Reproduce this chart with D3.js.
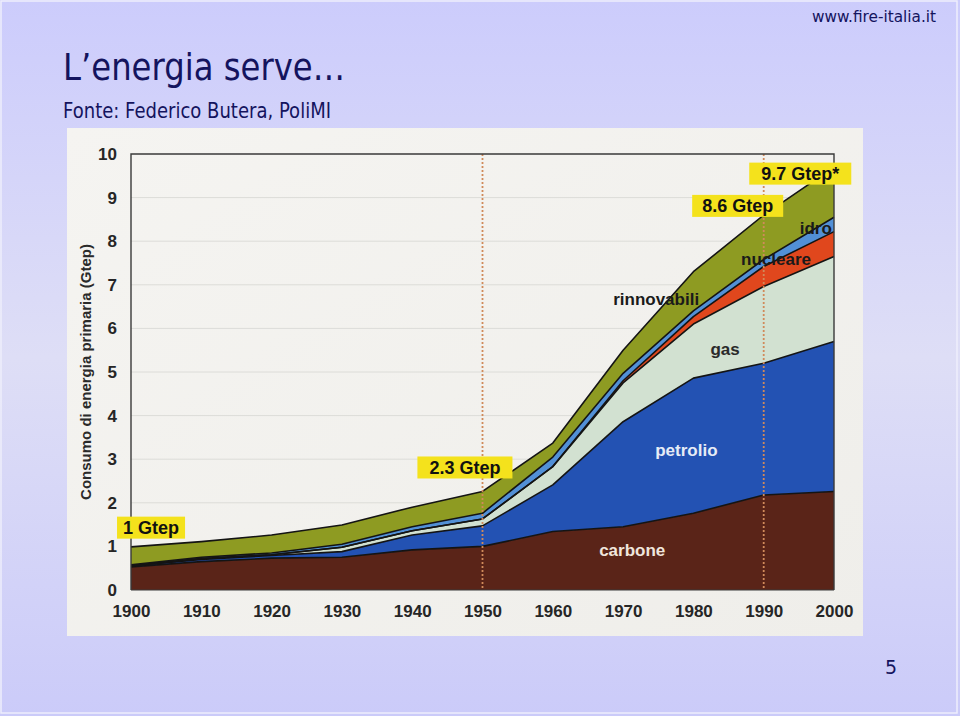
<!DOCTYPE html>
<html>
<head>
<meta charset="utf-8">
<script src="https://cdn.jsdelivr.net/npm/d3@7"></script>
<style>
  html, body { margin: 0; padding: 0; background: #ccccfa; }
  svg { display: block; }
</style>
</head>
<body>
<svg id="slide" width="960" height="716"></svg>
<script>
// world primary energy consumption by source, Gtep (values per layer)
const years = [1900, 1910, 1920, 1930, 1940, 1950, 1960, 1970, 1980, 1990, 2000];
const carbone     = [0.53, 0.65, 0.73, 0.75, 0.92, 1.00, 1.34, 1.45, 1.76, 2.18, 2.26];
const petrolio    = [0.02, 0.05, 0.06, 0.13, 0.34, 0.47, 1.07, 2.41, 3.10, 3.02, 3.44];
const gas         = [0.01, 0.02, 0.02, 0.10, 0.10, 0.16, 0.42, 0.89, 1.24, 1.76, 1.95];
const nucleare    = [0.00, 0.00, 0.00, 0.00, 0.00, 0.00, 0.00, 0.05, 0.17, 0.46, 0.57];
const idro        = [0.02, 0.03, 0.04, 0.07, 0.09, 0.13, 0.22, 0.17, 0.13, 0.16, 0.33];
const rinnovabili = [0.41, 0.36, 0.41, 0.44, 0.45, 0.50, 0.32, 0.53, 0.90, 1.02, 1.15];

const sources = ["carbone", "petrolio", "gas", "nucleare", "idro", "rinnovabili"];
const seriesValues = { carbone, petrolio, gas, nucleare, idro, rinnovabili };
const yTicks = [0, 1, 2, 3, 4, 5, 6, 7, 8, 9, 10];
const xTicks = [1900, 1910, 1920, 1930, 1940, 1950, 1960, 1970, 1980, 1990, 2000];
const markerYears = [1950, 1990];

// callouts: year, value, text
const callouts = [
  { year: 1902.85, value: 1.43, text: "1 Gtep", pad: 6 },
  { year: 1947.5, value: 2.81, text: "2.3 Gtep", pad: 12 },
  { year: 1986.3, value: 8.81, text: "8.6 Gtep", pad: 10 },
  { year: 1995.2, value: 9.55, text: "9.7 Gtep*", pad: 12 }
];

const colors = {
  carbone: "#5a2418",
  petrolio: "#2352b3",
  gas: "#d2e1d1",
  nucleare: "#e0471d",
  idro: "#5290d6",
  rinnovabili: "#8e9b22"
};

const svg = d3.select("#slide");
const W = 960, H = 716;

// slide background
const defs = svg.append("defs");
const bg = defs.append("linearGradient").attr("id", "bg").attr("x1", 0).attr("y1", 0).attr("x2", 0).attr("y2", 1);
bg.append("stop").attr("offset", "0%").attr("stop-color", "#ccccfc");
bg.append("stop").attr("offset", "50%").attr("stop-color", "#dedef6");
bg.append("stop").attr("offset", "100%").attr("stop-color", "#cbcbf9");
svg.append("rect").attr("width", W).attr("height", H).attr("fill", "url(#bg)");
svg.append("rect").attr("x", 1).attr("y", 1).attr("width", W - 4).attr("height", H - 4)
  .attr("fill", "none").attr("stroke", "#eeeefc").attr("stroke-width", 1.5);

svg.append("text").attr("x", 63).attr("y", 80)
  .attr("font-family", "'Comic Sans MS', 'DejaVu Sans', sans-serif")
  .attr("font-size", 38).attr("fill", "#14145e")
  .attr("textLength", 282).attr("lengthAdjust", "spacingAndGlyphs")
  .text("L\u2019energia serve\u2026");

svg.append("text").attr("x", 63).attr("y", 118)
  .attr("font-family", "'Comic Sans MS', 'DejaVu Sans', sans-serif")
  .attr("font-size", 21).attr("fill", "#14145e")
  .attr("textLength", 268).attr("lengthAdjust", "spacingAndGlyphs")
  .text("Fonte: Federico Butera, PoliMI");

svg.append("text").attr("x", 936).attr("y", 22).attr("text-anchor", "end")
  .attr("font-family", "'Comic Sans MS', 'DejaVu Sans', sans-serif")
  .attr("font-size", 15).attr("fill", "#14145e")
  .attr("textLength", 124).attr("lengthAdjust", "spacingAndGlyphs")
  .text("www.fire-italia.it");

svg.append("text").attr("x", 891).attr("y", 674).attr("text-anchor", "middle")
  .attr("font-family", "'DejaVu Sans', sans-serif")
  .attr("font-size", 19).attr("fill", "#14145e")
  .text("5");

// scanned picture panel
const paper = defs.append("linearGradient").attr("id", "paper").attr("x1", 0).attr("y1", 0).attr("x2", 1).attr("y2", 1);
paper.append("stop").attr("offset", "0%").attr("stop-color", "#f5f4f1");
paper.append("stop").attr("offset", "100%").attr("stop-color", "#efeeea");
svg.append("rect").attr("x", 67).attr("y", 128).attr("width", 796).attr("height", 508).attr("fill", "url(#paper)");

const x = d3.scaleLinear().domain([1900, 2000]).range([131, 834]);
const y = d3.scaleLinear().domain([0, 10]).range([590, 154]);

// gridlines
svg.append("g").selectAll("line").data(yTicks.slice(1, -1)).join("line")
  .attr("x1", x(1900)).attr("x2", x(2000))
  .attr("y1", d => y(d)).attr("y2", d => y(d))
  .attr("stroke", "#dcdcd8").attr("stroke-width", 1);

// stacked areas
const table = years.map((yr, i) => {
  const row = { year: yr };
  sources.forEach(s => row[s] = seriesValues[s][i]);
  return row;
});
const stacked = d3.stack().keys(sources)(table);

const area = d3.area()
  .x(d => x(d.data.year))
  .y0(d => y(d[0]))
  .y1(d => y(d[1]));
const topLine = d3.line()
  .x(d => x(d.data.year))
  .y(d => y(d[1]));

svg.append("g").selectAll("path").data(stacked).join("path")
  .attr("d", area)
  .attr("fill", d => colors[d.key]);

svg.append("g").selectAll("path").data(stacked).join("path")
  .attr("d", topLine)
  .attr("fill", "none")
  .attr("stroke", "#141414")
  .attr("stroke-width", 1.6)
  .attr("stroke-linejoin", "round");

// dotted markers
svg.append("g").selectAll("line").data(markerYears).join("line")
  .attr("x1", d => x(d)).attr("x2", d => x(d))
  .attr("y1", y(10)).attr("y2", y(0))
  .attr("stroke", "#d08a5a").attr("stroke-width", 1.8)
  .attr("stroke-dasharray", "2,2");

// frame
svg.append("path")
  .attr("d", `M${x(1900)},${y(0)}V${y(10)}H${x(2000)}V${y(0)}`)
  .attr("fill", "none").attr("stroke", "#3a3a3a").attr("stroke-width", 1.4);
svg.append("line").attr("x1", x(1900)).attr("x2", x(2000)).attr("y1", y(0)).attr("y2", y(0))
  .attr("stroke", "#3a3a3a").attr("stroke-width", 1);

// axes
const yAxis = svg.append("g").attr("transform", `translate(${x(1900)},0)`)
  .call(d3.axisLeft(y).tickValues(yTicks).tickSize(0).tickPadding(14));
yAxis.select(".domain").remove();
yAxis.selectAll("text")
  .attr("font-family", "'Liberation Sans', Arial, sans-serif")
  .attr("font-weight", "bold").attr("font-size", 17).attr("fill", "#262626");

const xAxis = svg.append("g").attr("transform", `translate(0,${y(0)})`)
  .call(d3.axisBottom(x).tickValues(xTicks).tickFormat(d3.format("d")).tickSize(0).tickPadding(15));
xAxis.select(".domain").remove();
xAxis.selectAll("text")
  .attr("font-family", "'Liberation Sans', Arial, sans-serif")
  .attr("font-weight", "bold").attr("font-size", 17).attr("fill", "#262626");

svg.append("text")
  .attr("transform", `translate(91,${y(5.0)}) rotate(-90)`)
  .attr("text-anchor", "middle")
  .attr("font-family", "'Liberation Sans', Arial, sans-serif")
  .attr("font-weight", "bold").attr("font-size", 15).attr("fill", "#2a2a2a")
  .text("Consumo di energia primaria (Gtep)");

// layer labels
const layerLabels = [
  { year: 1974.7, value: 6.54, text: "rinnovabili", fill: "#1a1a1a" },
  { year: 1991.75, value: 7.45, text: "nucleare", fill: "#1a1a1a" },
  { year: 1997.4, value: 8.17, text: "idro", fill: "#1a1a1a" },
  { year: 1984.5, value: 5.4, text: "gas", fill: "#2a2a2a" },
  { year: 1979, value: 3.07, text: "petrolio", fill: "#e6ecf6" },
  { year: 1971.3, value: 0.78, text: "carbone", fill: "#f0e6dc" }
];
svg.append("g").selectAll("text").data(layerLabels).join("text")
  .attr("x", d => x(d.year)).attr("y", d => y(d.value))
  .attr("text-anchor", "middle")
  .attr("font-family", "'Liberation Sans', Arial, sans-serif")
  .attr("font-weight", "bold").attr("font-size", 17)
  .attr("fill", d => d.fill)
  .text(d => d.text);

// yellow callouts
const cg = svg.append("g").selectAll("g").data(callouts).join("g")
  .attr("transform", d => `translate(${x(d.year)},${y(d.value)})`);
cg.append("text")
  .attr("text-anchor", "middle").attr("dy", "0.36em")
  .attr("font-family", "'Liberation Sans', Arial, sans-serif")
  .attr("font-weight", "bold").attr("font-size", 18).attr("fill", "#111")
  .text(d => d.text)
  .each(function (d) {
    const b = this.getBBox();
    d3.select(this.parentNode).insert("rect", "text")
      .attr("x", b.x - d.pad).attr("y", -11).attr("width", b.width + 2 * d.pad).attr("height", 22)
      .attr("fill", "#f4e21c");
  });
</script>
</body>
</html>
